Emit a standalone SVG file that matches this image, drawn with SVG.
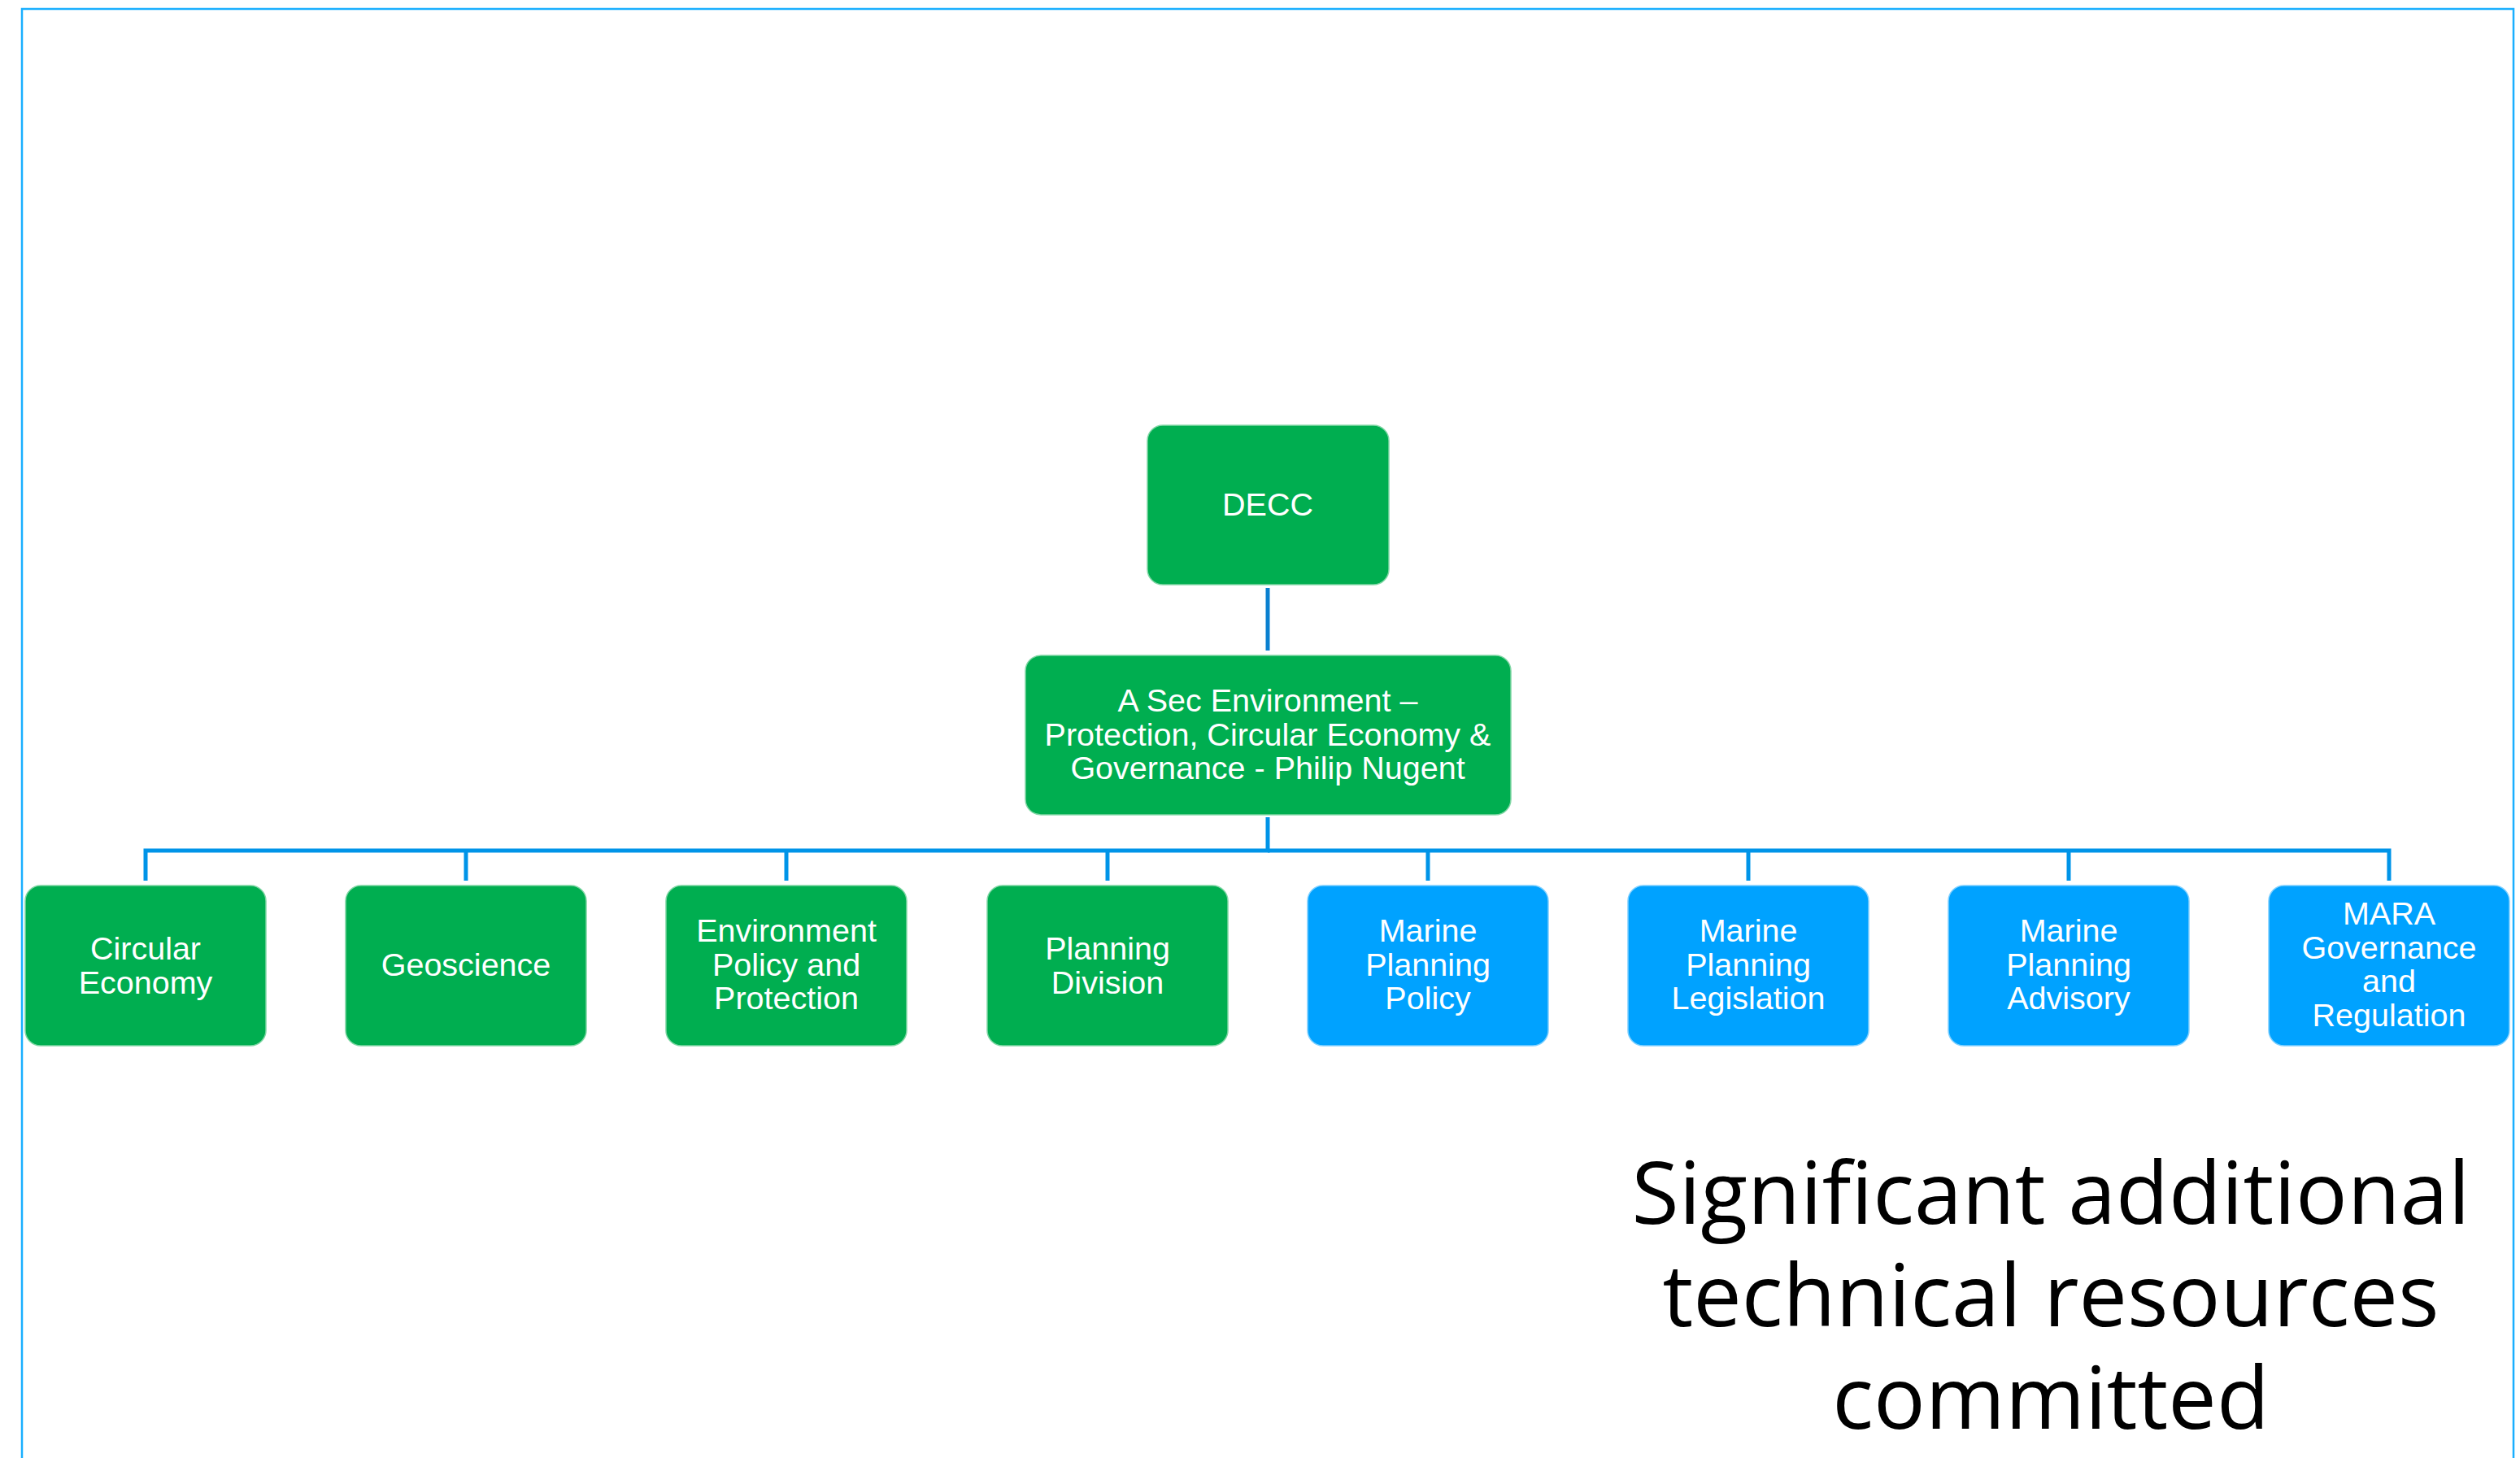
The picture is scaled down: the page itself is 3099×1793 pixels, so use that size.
<svg xmlns="http://www.w3.org/2000/svg" width="3099" height="1793" viewBox="0 0 3099 1793">
<style>
.g{fill:#00AE50;stroke:#7fd6a4;stroke-width:1.5}
.b{fill:#00A2FF;stroke:#7fd0ff;stroke-width:1.5}
.t{font-family:"Liberation Sans",Arial,sans-serif;font-size:39.5px;fill:#fff;text-anchor:middle}
.c{fill:none;stroke:#0094E8;stroke-width:5;stroke-linejoin:miter}
.big{font-family:"Open Sans",sans-serif;font-size:106px;fill:#000;text-anchor:middle}
</style>
<rect x="27" y="11" width="3064" height="1800" fill="#fff" stroke="#1AAFFF" stroke-width="2.5"/>
<g id="connectors">
<path d="M1559,723 V800" fill="none" stroke="#0A80D0" stroke-width="5"/>
<path class="c" d="M1559,1005 V1046 H179 V1083"/>
<path class="c" d="M1559,1046 H2938 V1083"/>
<path class="c" d="M573,1046 V1083"/>
<path class="c" d="M967,1046 V1083"/>
<path class="c" d="M1362,1046 V1083"/>
<path class="c" d="M1756,1046 V1083"/>
<path class="c" d="M2150,1046 V1083"/>
<path class="c" d="M2544,1046 V1083"/>
</g>
<g id="decc"><rect class="g" x="1411" y="523" width="297" height="196" rx="19"/><text class="t" x="1559" y="634">DECC</text></g>
<g id="asec"><rect class="g" x="1261" y="806" width="597" height="196" rx="19"/><text class="t" x="1559" y="875">A Sec Environment –<tspan x="1559" dy="41.5">Protection, Circular Economy &amp;</tspan><tspan x="1559" dy="41.5">Governance - Philip Nugent</tspan></text></g>
<g id="circular"><rect class="g" x="31" y="1089" width="296" height="197" rx="19"/><text class="t" x="179" y="1180">Circular<tspan x="179" dy="41.5">Economy</tspan></text></g>
<g id="geoscience"><rect class="g" x="425" y="1089" width="296" height="197" rx="19"/><text class="t" x="573" y="1200">Geoscience</text></g>
<g id="envpolicy"><rect class="g" x="819" y="1089" width="296" height="197" rx="19"/><text class="t" x="967" y="1158">Environment<tspan x="967" dy="41.5">Policy and</tspan><tspan x="967" dy="41.5">Protection</tspan></text></g>
<g id="planning"><rect class="g" x="1214" y="1089" width="296" height="197" rx="19"/><text class="t" x="1362" y="1180">Planning<tspan x="1362" dy="41.5">Division</tspan></text></g>
<g id="mppolicy"><rect class="b" x="1608" y="1089" width="296" height="197" rx="19"/><text class="t" x="1756" y="1158">Marine<tspan x="1756" dy="41.5">Planning</tspan><tspan x="1756" dy="41.5">Policy</tspan></text></g>
<g id="mplegislation"><rect class="b" x="2002" y="1089" width="296" height="197" rx="19"/><text class="t" x="2150" y="1158">Marine<tspan x="2150" dy="41.5">Planning</tspan><tspan x="2150" dy="41.5">Legislation</tspan></text></g>
<g id="mpadvisory"><rect class="b" x="2396" y="1089" width="296" height="197" rx="19"/><text class="t" x="2544" y="1158">Marine<tspan x="2544" dy="41.5">Planning</tspan><tspan x="2544" dy="41.5">Advisory</tspan></text></g>
<g id="mara"><rect class="b" x="2790" y="1089" width="296" height="197" rx="19"/><text class="t" x="2938" y="1137">MARA<tspan x="2938" dy="41.5">Governance</tspan><tspan x="2938" dy="41.5">and</tspan><tspan x="2938" dy="41.5">Regulation</tspan></text></g>
<g id="note"><text class="big" x="2522" y="1505">Significant additional<tspan x="2522" dy="126">technical resources</tspan><tspan x="2522" dy="126">committed</tspan></text></g>
</svg>
